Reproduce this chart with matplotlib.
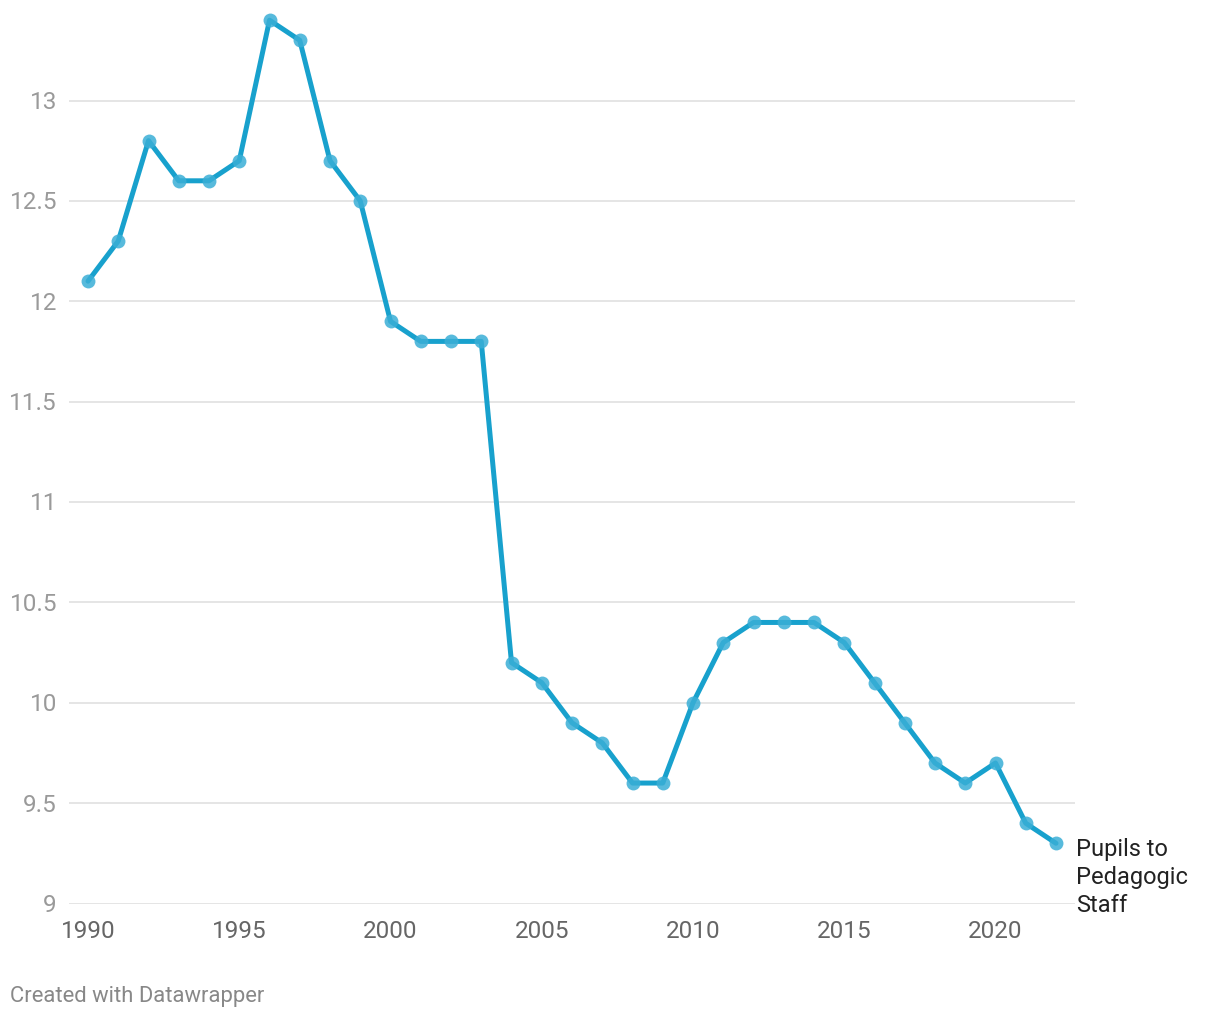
import matplotlib
matplotlib.use("Agg")
import matplotlib.pyplot as plt

years = list(range(1990, 2023))
values = [12.1, 12.3, 12.8, 12.6, 12.6, 12.7, 13.4, 13.3, 12.7, 12.5,
          11.9, 11.8, 11.8, 11.8, 10.2, 10.1, 9.9, 9.8, 9.6, 9.6,
          10.0, 10.3, 10.4, 10.4, 10.4, 10.3, 10.1, 9.9, 9.7, 9.6,
          9.7, 9.4, 9.3]
yticks = [9, 9.5, 10, 10.5, 11, 11.5, 12, 12.5, 13]
ytick_labels = ["9", "9.5", "10", "10.5", "11", "11.5", "12", "12.5", "13"]
xticks = [1990, 1995, 2000, 2005, 2010, 2015, 2020]
series_label = "Pupils to\nPedagogic\nStaff"

plt.rcParams['font.family'] = ['Roboto', 'DejaVu Sans']

W, H = 1220, 1020
y9, y13 = 904.5, 101.5
ppu = (y9 - y13) / 4.0
fig = plt.figure(figsize=(W / 100, H / 100), dpi=100)
ax = fig.add_axes([69 / W, (H - y9) / H, (1075 - 69) / W, (y9 - 8) / H])

color = "#18a1cd"
ax.plot(years, values, color=color, lw=3.6, solid_capstyle='round',
        solid_joinstyle='round', zorder=3)
ax.plot(years, values, 'o', color="#3aaed6", ms=10, alpha=0.85, mec='none', zorder=4)

ax.set_xlim(1990 - 19 / 30.25, 2022 + 19 / 30.25)
ax.set_ylim(9, 9 + (y9 - 8) / ppu)

for y in yticks:
    ax.axhline(y, color="#e0e0e0", lw=1.2, zorder=1)

for s in ax.spines.values():
    s.set_visible(False)
ax.set_yticks([])
ax.set_xticks([])

for y, lab in zip(yticks, ytick_labels):
    ax.annotate(lab, xy=(0, y), xycoords=ax.get_yaxis_transform(),
                xytext=(-12, -1), textcoords='offset pixels',
                ha='right', va='center', fontsize=17.5, color="#9a9a9a")

for x in xticks:
    ax.annotate(str(x), xy=(x, 9), xycoords='data', xytext=(0, -27),
                textcoords='offset pixels', ha='center', va='center',
                fontsize=17.5, color="#666666")

ax.annotate(series_label, xy=(years[-1], values[-1]), xycoords='data',
            xytext=(20, -33), textcoords='offset pixels', ha='left', va='center',
            fontsize=17, color="#222222", linespacing=1.27)

fig.text(10 / W, 1 - 997 / H, "Created with Datawrapper", ha='left', va='center',
         fontsize=15.8, color="#888888")

fig.savefig("out.png", dpi=100)
